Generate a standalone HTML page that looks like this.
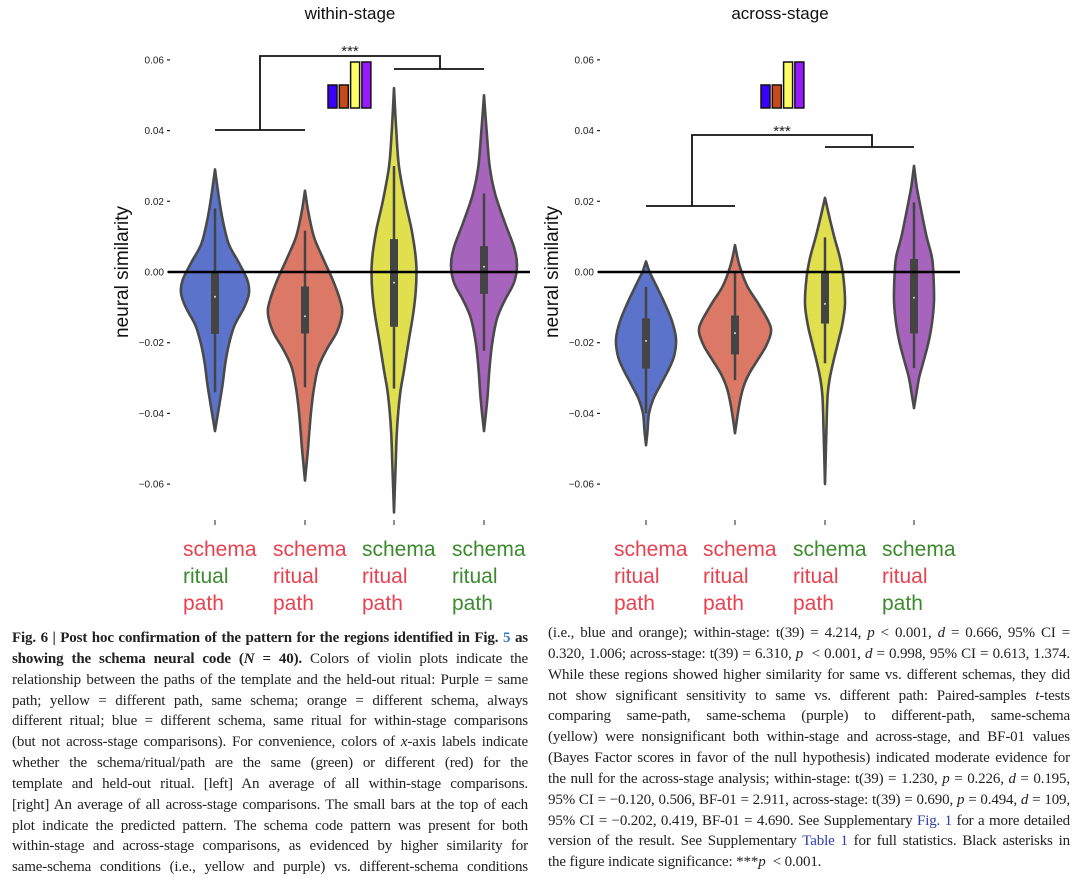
<!DOCTYPE html>
<html><head><meta charset="utf-8">
<style>
body{margin:0;background:#fff;width:1080px;height:876px;overflow:hidden;position:relative;font-family:"Liberation Sans",sans-serif}
svg{position:absolute;left:0;top:0}
.cap{position:absolute;font-family:"Liberation Serif",serif;font-size:15px;color:#222;letter-spacing:-0.15px}
.ln{height:20.85px;line-height:20.85px;white-space:nowrap;text-align:justify;text-align-last:justify;overflow:hidden}
.ln.last{text-align-last:left}
a{color:#2a3ab0}
</style></head><body>
<svg id="fig" width="1080" height="620"></svg>

<div class="cap" style="left:12px;top:628px;width:516px">
<div class="ln"><b>Fig. 6 | Post hoc confirmation of the pattern for the regions identified in Fig. <span style="color:#3a7cc4">5</span> as</b></div>
<div class="ln"><b>showing the schema neural code (<i>N</i> = 40).</b> Colors of violin plots indicate the</div>
<div class="ln">relationship between the paths of the template and the held-out ritual: Purple = same</div>
<div class="ln">path; yellow = different path, same schema; orange = different schema, always</div>
<div class="ln">different ritual; blue = different schema, same ritual for within-stage comparisons</div>
<div class="ln">(but not across-stage comparisons). For convenience, colors of <i>x</i>-axis labels indicate</div>
<div class="ln">whether the schema/ritual/path are the same (green) or different (red) for the</div>
<div class="ln">template and held-out ritual. [left] An average of all within-stage comparisons.</div>
<div class="ln">[right] An average of all across-stage comparisons. The small bars at the top of each</div>
<div class="ln">plot indicate the predicted pattern. The schema code pattern was present for both</div>
<div class="ln">within-stage and across-stage comparisons, as evidenced by higher similarity for</div>
<div class="ln">same-schema conditions (i.e., yellow and purple) vs. different-schema conditions</div>
</div>
<div class="cap" style="left:548px;top:623px;width:522px">
<div class="ln">(i.e., blue and orange); within-stage: t(39) = 4.214, <i>p</i> &lt; 0.001, <i>d</i> = 0.666, 95% CI =</div>
<div class="ln">0.320, 1.006; across-stage: t(39) = 6.310, <i>p</i> &nbsp;&lt; 0.001, <i>d</i> = 0.998, 95% CI = 0.613, 1.374.</div>
<div class="ln">While these regions showed higher similarity for same vs. different schemas, they did</div>
<div class="ln">not show significant sensitivity to same vs. different path: Paired-samples <i>t</i>-tests</div>
<div class="ln">comparing same-path, same-schema (purple) to different-path, same-schema</div>
<div class="ln">(yellow) were nonsignificant both within-stage and across-stage, and BF-01 values</div>
<div class="ln">(Bayes Factor scores in favor of the null hypothesis) indicated moderate evidence for</div>
<div class="ln">the null for the across-stage analysis; within-stage: t(39) = 1.230, <i>p</i> = 0.226, <i>d</i> = 0.195,</div>
<div class="ln">95% CI = −0.120, 0.506, BF-01 = 2.911, across-stage: t(39) = 0.690, <i>p</i> = 0.494, <i>d</i> = 109,</div>
<div class="ln">95% CI = −0.202, 0.419, BF-01 = 4.690. See Supplementary<a> Fig. 1</a> for a more detailed</div>
<div class="ln">version of the result. See Supplementary<a> Table 1</a> for full statistics. Black asterisks in</div>
<div class="ln last">the figure indicate significance: ***<i>p</i> &nbsp;&lt; 0.001.</div>
</div>

<script>
// ---- data ----
const yTicks = [0.06, 0.04, 0.02, 0.00, -0.02, -0.04, -0.06];
const tickLabels = ["0.06", "0.04", "0.02", "0.00", "−0.02", "−0.04", "−0.06"];
const conditions = ["diff-schema-same-ritual", "diff-schema-diff-ritual", "same-schema-diff-path", "same-schema-same-path"];
// density profiles: values (top->bottom) and relative widths
const leftVals = [
 [0.029,0.022,0.015,0.008,0.003,-0.002,-0.006,-0.010,-0.015,-0.020,-0.026,-0.032,-0.038,-0.045],
 [0.023,0.017,0.010,0.004,-0.002,-0.008,-0.012,-0.017,-0.022,-0.027,-0.033,-0.040,-0.050,-0.059],
 [0.052,0.040,0.030,0.020,0.012,0.005,0.000,-0.006,-0.012,-0.020,-0.028,-0.035,-0.045,-0.055,-0.068],
 [0.050,0.040,0.030,0.022,0.014,0.007,0.002,-0.003,-0.008,-0.013,-0.020,-0.028,-0.036,-0.045]];
const leftWidths = [
 [0,0.1,0.22,0.4,0.68,0.94,1.0,0.86,0.58,0.42,0.3,0.22,0.12,0],
 [0,0.09,0.24,0.48,0.74,0.95,1.0,0.86,0.58,0.36,0.24,0.16,0.08,0],
 [0,0.1,0.22,0.5,0.78,0.95,1.0,0.96,0.85,0.64,0.44,0.26,0.13,0.07,0],
 [0,0.08,0.17,0.34,0.63,0.91,1.0,0.91,0.63,0.4,0.25,0.16,0.1,0]];
const leftQ1 = [-0.0175,-0.0174,-0.0155,-0.0062];
const leftQ3 = [0.0,-0.0041,0.0093,0.0073];
const leftMed = [-0.007,-0.0125,-0.003,0.0015];
const leftWhiskLo = [-0.034,-0.0326,-0.033,-0.0223];
const leftWhiskHi = [0.018,0.0117,0.030,0.0222];

const rightVals = [
 [0.003,0.000,-0.004,-0.009,-0.014,-0.019,-0.024,-0.028,-0.032,-0.036,-0.040,-0.045,-0.049],
 [0.0076,0.002,-0.004,-0.009,-0.014,-0.017,-0.021,-0.025,-0.029,-0.033,-0.038,-0.0456],
 [0.021,0.016,0.010,0.004,-0.002,-0.009,-0.015,-0.020,-0.025,-0.030,-0.035,-0.045,-0.060],
 [0.030,0.024,0.018,0.010,0.004,-0.002,-0.008,-0.014,-0.020,-0.026,-0.030,-0.034,-0.0385]];
const rightWidths = [
 [0,0.12,0.35,0.63,0.87,1.0,0.93,0.73,0.48,0.24,0.1,0.05,0],
 [0,0.12,0.34,0.65,0.93,1.0,0.86,0.62,0.38,0.22,0.11,0],
 [0,0.2,0.46,0.75,0.93,1.0,0.86,0.65,0.43,0.24,0.13,0.07,0],
 [0,0.14,0.34,0.63,0.9,0.98,1.0,0.91,0.72,0.44,0.25,0.13,0]];
const rightQ1 = [-0.0273,-0.0233,-0.0146,-0.0174];
const rightQ3 = [-0.0131,-0.0123,0.0,0.0037];
const rightMed = [-0.0195,-0.0173,-0.009,-0.0073];
const rightWhiskLo = [-0.040,-0.0306,-0.0258,-0.0272];
const rightWhiskHi = [-0.0042,0.0,0.0098,0.0197];

const predicted = [1, 1, 2, 2]; // predicted pattern heights
const schemaSameLeft = [false,false,true,true], ritualSameLeft=[true,false,false,true], pathSameLeft=[false,false,false,true];
const schemaSameRight = [false,false,true,true], ritualSameRight=[false,false,false,false], pathSameRight=[false,false,false,true];

// ---- drawing ----
const NS="http://www.w3.org/2000/svg";
const svg=document.getElementById('fig');
const fills=["#5b73cb","#db7966","#e0df4e","#a764bd"];
const barFills=["#3a00ff","#c84a1a","#ffff66","#9a1aff"];
const RED="#e8414f", GREEN="#3c8a2e";
function y(v){return 272 - v*3535;}
function el(tag,attrs,parent){const e=document.createElementNS(NS,tag);for(const k in attrs)e.setAttribute(k,attrs[k]);(parent||svg).appendChild(e);return e;}
function smooth(pts){
  let d="";
  for(let i=0;i<pts.length-1;i++){
    const p0=pts[Math.max(0,i-1)],p1=pts[i],p2=pts[i+1],p3=pts[Math.min(pts.length-1,i+2)];
    const c1=[p1[0]+(p2[0]-p0[0])/6,p1[1]+(p2[1]-p0[1])/6];
    const c2=[p2[0]-(p3[0]-p1[0])/6,p2[1]-(p3[1]-p1[1])/6];
    d+=` C${c1[0].toFixed(1)},${c1[1].toFixed(1)} ${c2[0].toFixed(1)},${c2[1].toFixed(1)} ${p2[0].toFixed(1)},${p2[1].toFixed(1)}`;
  }
  return d;
}
function panel(cfg){
  const g=el('g',{});
  
  
  const t=el('text',{x:cfg.titleX,y:19,'font-size':17,'text-anchor':'middle',fill:'#111'},g);
  t.textContent=cfg.title;
  
  
  const yl=el('text',{transform:`translate(${cfg.ylabX},272) rotate(-90)`,'font-size':19,'text-anchor':'middle',fill:'#111'},g);
  yl.textContent="neural similarity";
  
  
  yTicks.forEach((v,i)=>{
    const tl=el('text',{x:cfg.tickX-6,y:y(v)+3.5,'font-size':10,'text-anchor':'end',fill:'#222'},g);
    tl.textContent=tickLabels[i];
    
    
    el('line',{x1:cfg.tickX-3,x2:cfg.tickX,y1:y(v),y2:y(v),stroke:'#222','stroke-width':1.2},g);
  });
  for(let k=0;k<4;k++){
    const cx=cfg.cx[k], mw=cfg.maxW[k];
    const vals=cfg.vals[k], ws=cfg.widths[k];
    const right=vals.map((v,i)=>[cx+ws[i]*mw,y(v)]);
    const left=vals.map((v,i)=>[cx-ws[i]*mw,y(v)]).reverse();
    const d=`M${right[0][0]},${right[0][1]}`+smooth(right)+` L${left[0][0]},${left[0][1]}`+smooth(left)+"Z";
    const p=el('path',{d:d,fill:fills[k],stroke:'#4a4a4a','stroke-width':2.6,'stroke-linejoin':'round'},g);
    
    
    el('line',{x1:cx,x2:cx,y1:y(cfg.wHi[k]),y2:y(cfg.wLo[k]),stroke:'#444','stroke-width':2.5},g);
    const b=el('rect',{x:cx-4,y:y(cfg.q3[k]),width:8,height:y(cfg.q1[k])-y(cfg.q3[k]),fill:'#444'},g);
    
    
    el('circle',{cx:cx,cy:y(cfg.med[k]),r:1,fill:'#ddd'},g);
    el('line',{x1:cx,x2:cx,y1:520,y2:525,stroke:'#555','stroke-width':1.3},g);
    const rows=[["schema",cfg.schema[k]],["ritual",cfg.ritual[k]],["path",cfg.path[k]]];
    rows.forEach((r,j)=>{
      const tx=el('text',{x:cx-32,y:556+j*27,'font-size':21,fill:r[1]?GREEN:RED},g);
      tx.textContent=r[0];
      
      
    });
  }
  // zero line
  const z=el('line',{x1:cfg.zeroX1,x2:cfg.zeroX2,y1:y(0),y2:y(0),stroke:'#000','stroke-width':2.6},g);
  
  
  // bracket
  const b=cfg.br;
  const br=el('path',{d:`M${cfg.cx[0]},${b.lowY} H${cfg.cx[1]} M${b.lx},${b.lowY} V${b.topY} H${b.rx} V${b.midY} M${cfg.cx[2]},${b.midY} H${cfg.cx[3]}`,fill:'none',stroke:'#111','stroke-width':1.8},g);
  
  
  const st=el('text',{x:b.starX,y:b.starY,'font-size':15,'text-anchor':'middle',fill:'#222'},g);
  st.textContent="***";
  
  
  // predicted bars
  predicted.forEach((h,k)=>{
    const hh=h*23;
    const r=el('rect',{x:cfg.barX+k*11.3,y:108-hh,width:9,height:hh,fill:barFills[k],stroke:'#111','stroke-width':1.5},g);
    
    
  });
}
panel({name:'within-stage',title:'within-stage',titleX:350,ylabX:128,tickX:170,cx:[215,305,394,484],maxW:[34,37,22.5,33],
  vals:leftVals,widths:leftWidths,q1:leftQ1,q3:leftQ3,med:leftMed,wLo:leftWhiskLo,wHi:leftWhiskHi,
  schema:schemaSameLeft,ritual:ritualSameLeft,path:pathSameLeft,zeroX1:168,zeroX2:530,
  br:{lowY:130,lx:260,topY:56,rx:440,midY:69,starX:350,starY:56},barX:328});
panel({name:'across-stage',title:'across-stage',titleX:780,ylabX:558,tickX:600,cx:[646,735,825,914],maxW:[30,36,20,20],
  vals:rightVals,widths:rightWidths,q1:rightQ1,q3:rightQ3,med:rightMed,wLo:rightWhiskLo,wHi:rightWhiskHi,
  schema:schemaSameRight,ritual:ritualSameRight,path:pathSameRight,zeroX1:598,zeroX2:960,
  br:{lowY:206,lx:692,topY:135,rx:872,midY:147,starX:782,starY:136},barX:761});
</script>
</body></html>
